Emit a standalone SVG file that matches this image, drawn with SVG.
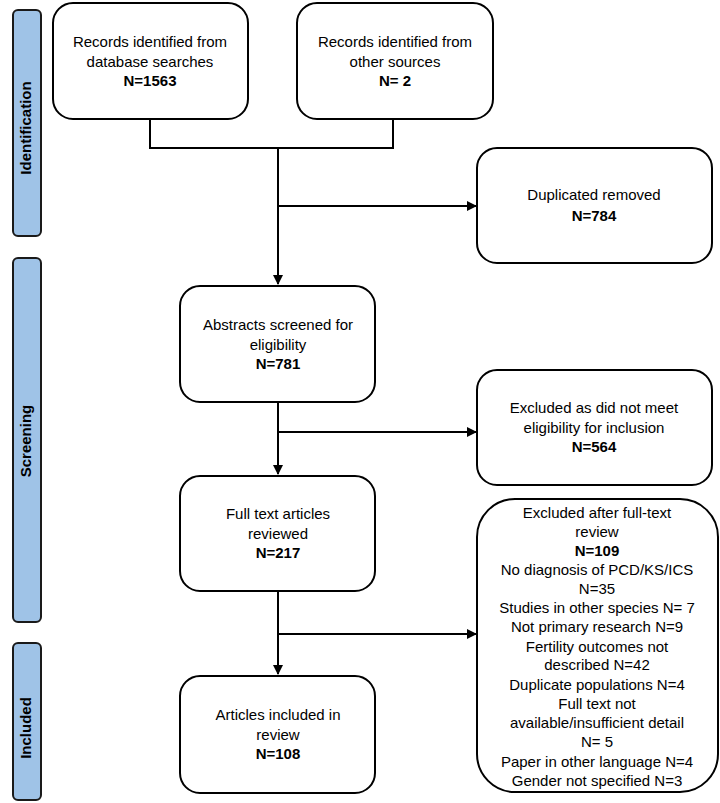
<svg xmlns="http://www.w3.org/2000/svg" width="720" height="803" viewBox="0 0 720 803">
<style>
.box{fill:#fff;stroke:#000;stroke-width:2}
.side{fill:#9fc3e7;stroke:#1a1a1a;stroke-width:2}
.t{font-family:"Liberation Sans",Arial,sans-serif;font-size:15px;fill:#000;text-anchor:middle}
.b{font-weight:bold}
.s{font-family:"Liberation Sans",Arial,sans-serif;font-size:15px;font-weight:bold;fill:#000;text-anchor:middle}
.c{fill:none;stroke:#000;stroke-width:2}
</style>
<defs>
<marker id="arr" markerWidth="10" markerHeight="10" refX="9" refY="5" orient="auto" markerUnits="userSpaceOnUse">
<path d="M0,0 L10,5 L0,10 Z" fill="#000"/>
</marker>
</defs>
<g id="side-identification"><rect class="side" x="13" y="10" width="28" height="226" rx="5"/><text class="s" transform="translate(31,128) rotate(-90)">Identification</text></g>
<g id="side-screening"><rect class="side" x="13" y="258" width="28" height="364" rx="5"/><text class="s" transform="translate(31,441) rotate(-90)">Screening</text></g>
<g id="side-included"><rect class="side" x="13" y="643" width="28" height="157" rx="5"/><text class="s" transform="translate(31,728) rotate(-90)">Included</text></g>
<g id="connectors">
<path class="c" d="M150,119 V148 H393 V119"/>
<path class="c" d="M278,148 V284" marker-end="url(#arr)"/>
<path class="c" d="M278,206 H476" marker-end="url(#arr)"/>
<path class="c" d="M278,402 V474" marker-end="url(#arr)"/>
<path class="c" d="M278,432 H476" marker-end="url(#arr)"/>
<path class="c" d="M278,591 V674" marker-end="url(#arr)"/>
<path class="c" d="M278,634 H476" marker-end="url(#arr)"/>
</g>
<g id="db"><rect class="box" x="53" y="3" width="195" height="116" rx="20"/>
<text class="t" x="150" y="47">Records identified from</text><text class="t" x="150" y="67">database searches</text><text class="t b" x="150" y="86">N=1563</text></g>
<g id="other"><rect class="box" x="297" y="3" width="196" height="116" rx="20"/>
<text class="t" x="395" y="47">Records identified from</text><text class="t" x="395" y="67">other sources</text><text class="t b" x="395" y="86">N= 2</text></g>
<g id="dup"><rect class="box" x="477" y="148" width="235" height="115" rx="20"/>
<text class="t" x="594" y="200">Duplicated removed</text><text class="t b" x="594" y="221">N=784</text></g>
<g id="abstracts"><rect class="box" x="180" y="286" width="195" height="116" rx="20"/>
<text class="t" x="278" y="330">Abstracts screened for</text><text class="t" x="278" y="350">eligibility</text><text class="t b" x="278" y="369">N=781</text></g>
<g id="excl1"><rect class="box" x="477" y="370" width="235" height="115" rx="20"/>
<text class="t" x="594" y="413">Excluded as did not meet</text><text class="t" x="594" y="433">eligibility for inclusion</text><text class="t b" x="594" y="452">N=564</text></g>
<g id="fulltext"><rect class="box" x="180" y="476" width="195" height="115" rx="20"/>
<text class="t" x="278" y="519">Full text articles</text><text class="t" x="278" y="539">reviewed</text><text class="t b" x="278" y="558">N=217</text></g>
<g id="included"><rect class="box" x="180" y="676" width="195" height="117" rx="20"/>
<text class="t" x="278" y="720">Articles included in</text><text class="t" x="278" y="740">review</text><text class="t b" x="278" y="759">N=108</text></g>
<g id="excl2"><rect class="box" x="477" y="499" width="241" height="293" rx="38"/>
<text class="t" x="597" y="518">Excluded after full-text</text>
<text class="t" x="597" y="537">review</text>
<text class="t b" x="597" y="556">N=109</text>
<text class="t" x="597" y="575">No diagnosis of PCD/KS/ICS</text>
<text class="t" x="597" y="594">N=35</text>
<text class="t" x="597" y="613">Studies in other species N= 7</text>
<text class="t" x="597" y="632">Not primary research N=9</text>
<text class="t" x="597" y="652">Fertility outcomes not</text>
<text class="t" x="597" y="670">described N=42</text>
<text class="t" x="597" y="690">Duplicate populations N=4</text>
<text class="t" x="597" y="709">Full text not</text>
<text class="t" x="597" y="728">available/insufficient detail</text>
<text class="t" x="597" y="747">N= 5</text>
<text class="t" x="597" y="767">Paper in other language N=4</text>
<text class="t" x="597" y="786">Gender not specified N=3</text>
</g>
</svg>
